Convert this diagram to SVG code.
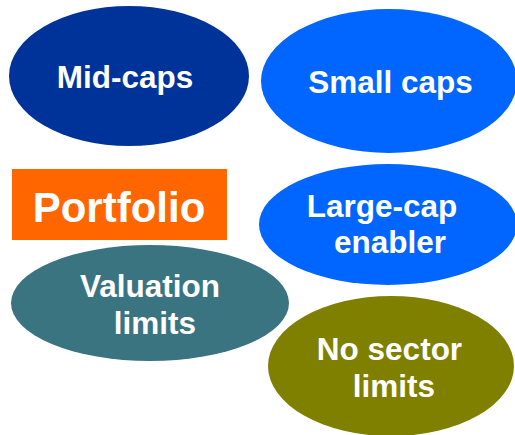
<svg xmlns="http://www.w3.org/2000/svg" width="515" height="435" viewBox="0 0 515 435">
<style>
.t{font-family:"Liberation Sans",Arial,sans-serif;font-weight:bold;fill:#ffffff;text-anchor:middle;font-size:31.5px}
.big{font-size:42px}
</style>
<rect width="515" height="435" fill="#ffffff"/>
<g id="connectors"/>
<g id="mid-caps">
<ellipse cx="129" cy="76" rx="120" ry="70" fill="#003399"/>
<text class="t" x="125" y="88">Mid-caps</text>
</g>
<g id="small-caps">
<ellipse cx="389" cy="81" rx="128" ry="72" fill="#0066FF"/>
<text class="t" x="390.5" y="93">Small caps</text>
</g>
<g id="portfolio">
<rect x="12" y="169" width="215" height="71" fill="#FF6600"/>
<text class="t big" x="119" y="222">Portfolio</text>
</g>
<g id="large-cap">
<ellipse cx="388" cy="224.5" rx="129" ry="60.5" fill="#0066FF"/>
<text class="t" x="382" y="217">Large-cap</text>
<text class="t" x="390" y="253">enabler</text>
</g>
<g id="valuation">
<ellipse cx="150" cy="303" rx="139" ry="58" fill="#3A7480"/>
<text class="t" x="150" y="297">Valuation</text>
<text class="t" x="155" y="334">limits</text>
</g>
<g id="no-sector">
<ellipse cx="391" cy="366" rx="123" ry="70" fill="#808000"/>
<text class="t" x="389.5" y="360">No sector</text>
<text class="t" x="394" y="397">limits</text>
</g>
</svg>
